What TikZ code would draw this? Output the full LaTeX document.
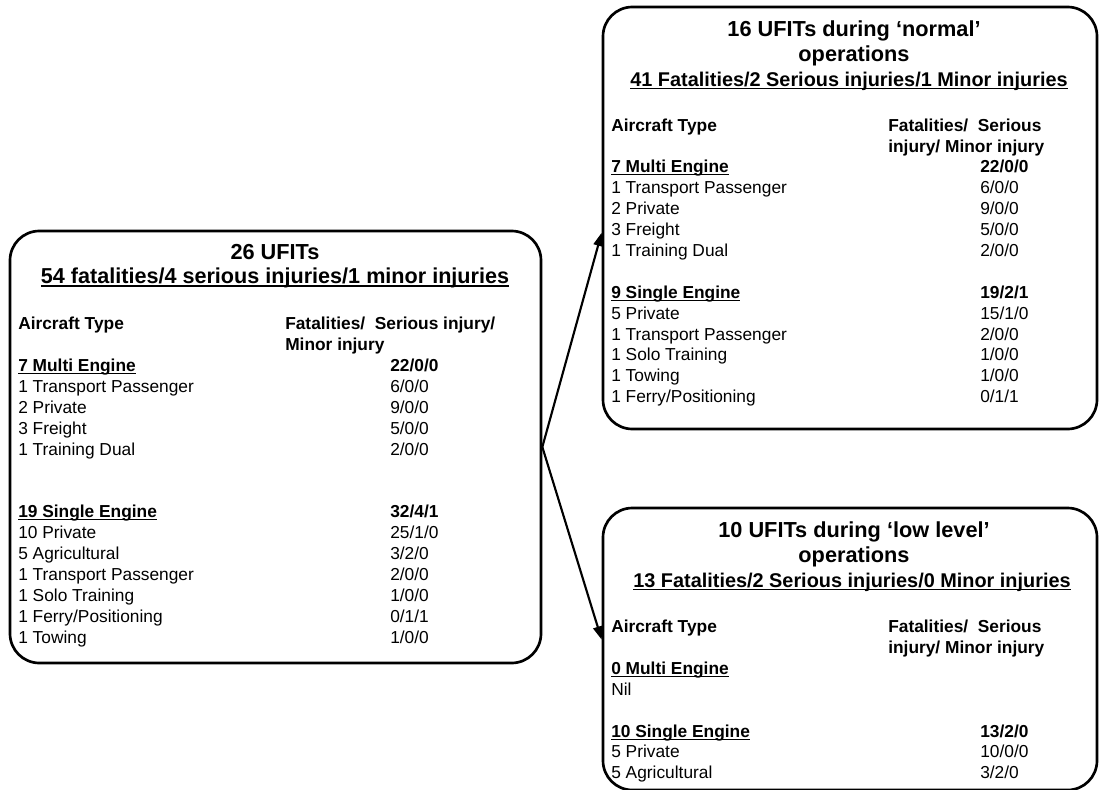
\documentclass[tikz,border=0pt]{standalone}
\usepackage{fontspec}
\setmainfont{Liberation Sans}
\usetikzlibrary{positioning, arrows.meta}

\newcommand{\undl}[1]{\setbox0=\hbox{#1}\rlap{\rule[-0.17em]{\wd0}{0.075em}}\box0}

\begin{document}
\begin{tikzpicture}[x=0.75pt, y=-0.75pt,
    panel/.style={draw, line width=2pt, rounded corners=22pt, inner sep=0pt},
    ttl/.style={font=\fontsize{16.3}{19}\selectfont\bfseries, anchor=base, inner sep=0pt},
    subttl/.style={font=\fontsize{14.9}{18}\selectfont\bfseries, anchor=base, inner sep=0pt},
    txt/.style={font=\fontsize{13}{15.5}\selectfont, anchor=base west, inner sep=0pt},
    hd/.style={txt, font=\fontsize{13}{15.5}\selectfont\bfseries},
    link/.style={line width=1.6pt, -{Triangle[length=10pt, width=7pt]}}]

    \useasboundingbox (0,0) rectangle (1099,789);

    % the three panels
    \node[panel, minimum width=398.25pt, minimum height=324pt] (lbox) at (275.5, 447) {};
    \node[panel, minimum width=370.5pt, minimum height=316.5pt] (tbox) at (850, 218) {};
    \node[panel, minimum width=370.5pt, minimum height=211.5pt] (bbox) at (850, 649) {};

    % all UFITs
    \node[ttl] (lttl) at (275, 259) {26 UFITs};
    \node[subttl, font=\fontsize{16.2}{19}\selectfont\bfseries] (lsub) at (275, 283) {\undl{54 fatalities/4 serious injuries/1 minor injuries}};
    \node[hd] (lhd) at (18, 329) {Aircraft Type};
    \node[hd] (lcol) at (285, 329) {Fatalities/\ \ Serious injury/};
    \node[hd] (lcol2) at (285, 350) {Minor injury};
    \node[hd] (lme) at (18, 371) {\undl{7 Multi Engine}};
    \node[hd] (lmev) at (390, 371) {22/0/0};
    \node[txt] (lm1) at (18, 392) {1 Transport Passenger};
    \node[txt] (lm1v) at (390, 392) {6/0/0};
    \node[txt] (lm2) at (18, 413) {2 Private};
    \node[txt] (lm2v) at (390, 413) {9/0/0};
    \node[txt] (lm3) at (18, 434) {3 Freight};
    \node[txt] (lm3v) at (390, 434) {5/0/0};
    \node[txt] (lm4) at (18, 455) {1 Training Dual};
    \node[txt] (lm4v) at (390, 455) {2/0/0};
    \node[hd] (lse) at (18, 517) {\undl{19 Single Engine}};
    \node[hd] (lsev) at (390, 517) {32/4/1};
    \node[txt] (ls1) at (18, 538) {10 Private};
    \node[txt] (ls1v) at (390, 538) {25/1/0};
    \node[txt] (ls2) at (18, 559) {5 Agricultural};
    \node[txt] (ls2v) at (390, 559) {3/2/0};
    \node[txt] (ls3) at (18, 580) {1 Transport Passenger};
    \node[txt] (ls3v) at (390, 580) {2/0/0};
    \node[txt] (ls4) at (18, 601) {1 Solo Training};
    \node[txt] (ls4v) at (390, 601) {1/0/0};
    \node[txt] (ls5) at (18, 622) {1 Ferry/Positioning};
    \node[txt] (ls5v) at (390, 622) {0/1/1};
    \node[txt] (ls6) at (18, 643) {1 Towing};
    \node[txt] (ls6v) at (390, 643) {1/0/0};

    % normal operations
    \node[ttl] (tttl) at (854, 36) {16 UFITs during ‘normal’};
    \node[ttl] (tttl2) at (854, 61) {operations};
    \node[subttl] (tsub) at (849, 86) {\undl{41 Fatalities/2 Serious injuries/1 Minor injuries}};
    \node[hd] (thd) at (611, 131) {Aircraft Type};
    \node[hd] (tcol) at (888, 131) {Fatalities/\ \ Serious};
    \node[hd] (tcol2) at (888, 152) {injury/ Minor injury};
    \node[hd] (tme) at (611, 172) {\undl{7 Multi Engine}};
    \node[hd] (tmev) at (980, 172) {22/0/0};
    \node[txt] (tm1) at (611, 193) {1 Transport Passenger};
    \node[txt] (tm1v) at (980, 193) {6/0/0};
    \node[txt] (tm2) at (611, 214) {2 Private};
    \node[txt] (tm2v) at (980, 214) {9/0/0};
    \node[txt] (tm3) at (611, 235) {3 Freight};
    \node[txt] (tm3v) at (980, 235) {5/0/0};
    \node[txt] (tm4) at (611, 256) {1 Training Dual};
    \node[txt] (tm4v) at (980, 256) {2/0/0};
    \node[hd] (tse) at (611, 298) {\undl{9 Single Engine}};
    \node[hd] (tsev) at (980, 298) {19/2/1};
    \node[txt] (ts1) at (611, 319) {5 Private};
    \node[txt] (ts1v) at (980, 319) {15/1/0};
    \node[txt] (ts2) at (611, 340) {1 Transport Passenger};
    \node[txt] (ts2v) at (980, 340) {2/0/0};
    \node[txt] (ts3) at (611, 360) {1 Solo Training};
    \node[txt] (ts3v) at (980, 360) {1/0/0};
    \node[txt] (ts4) at (611, 381) {1 Towing};
    \node[txt] (ts4v) at (980, 381) {1/0/0};
    \node[txt] (ts5) at (611, 402) {1 Ferry/Positioning};
    \node[txt] (ts5v) at (980, 402) {0/1/1};

    % low level operations
    \node[ttl] (bttl) at (854, 537) {10 UFITs during ‘low level’};
    \node[ttl] (bttl2) at (854, 562) {operations};
    \node[subttl] (bsub) at (852, 587) {\undl{13 Fatalities/2 Serious injuries/0 Minor injuries}};
    \node[hd] (bhd) at (611, 632) {Aircraft Type};
    \node[hd] (bcol) at (888, 632) {Fatalities/\ \ Serious};
    \node[hd] (bcol2) at (888, 653) {injury/ Minor injury};
    \node[hd] (bme) at (611, 674) {\undl{0 Multi Engine}};
    \node[txt] (bm1) at (611, 695) {Nil};
    \node[hd] (bse) at (611, 737) {\undl{10 Single Engine}};
    \node[hd] (bsev) at (980, 737) {13/2/0};
    \node[txt] (bs1) at (611, 757) {5 Private};
    \node[txt] (bs1v) at (980, 757) {10/0/0};
    \node[txt] (bs2) at (611, 778) {5 Agricultural};
    \node[txt] (bs2v) at (980, 778) {3/2/0};

    \draw[link] (lbox.east) -- ([yshift=-11pt]tbox.west);
    \draw[link] (lbox.east) -- ([yshift=7pt]bbox.west);
\end{tikzpicture}
\end{document}
